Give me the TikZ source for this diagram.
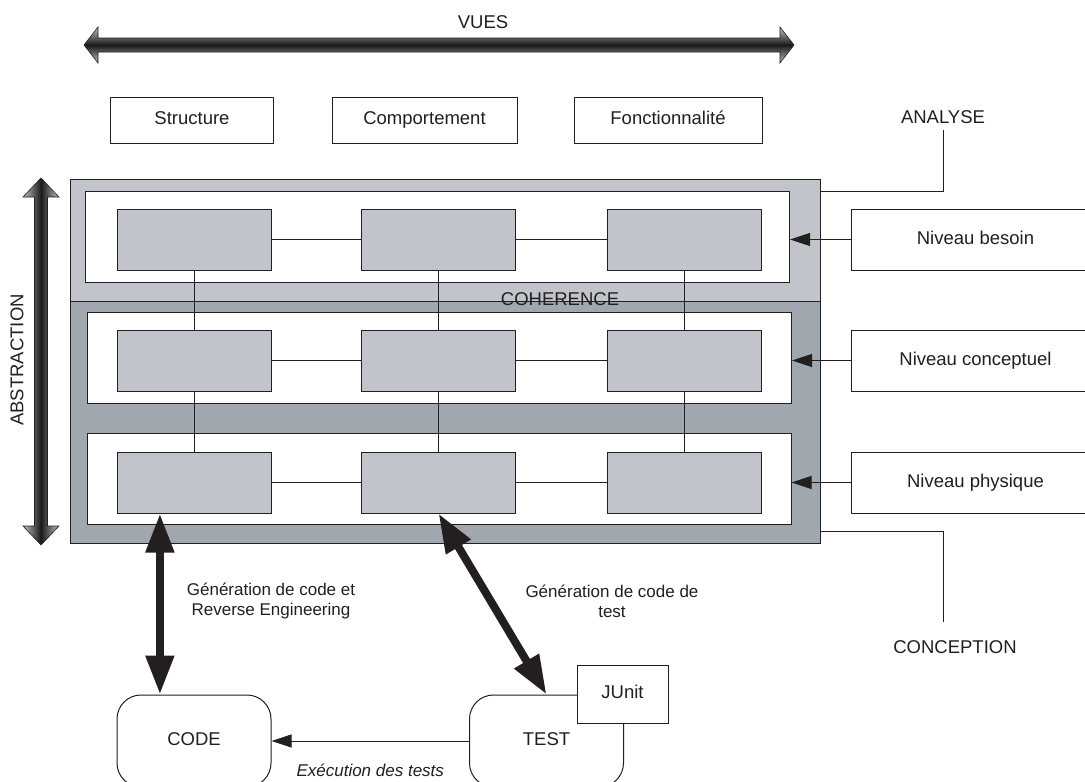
\documentclass[tikz,border=0pt]{standalone}
\usepackage{fontspec}
\setmainfont{Liberation Sans}
\usetikzlibrary{calc,arrows.meta,positioning}
\definecolor{ink}{HTML}{231F20}
\definecolor{panlight}{HTML}{C1C4CB}
\definecolor{pandark}{HTML}{A0A7AE}
\definecolor{boxgray}{HTML}{C1C4CB}
\tikzset{
  frame/.style={draw=ink, line width=1pt, fill=white, inner sep=0pt, text height=13pt, text depth=4pt},
  view/.style={frame, minimum height=46pt},
  band/.style={frame, minimum width=704pt, minimum height=91pt},
  elem/.style={draw=ink, line width=1pt, fill=boxgray, minimum width=154pt, minimum height=61pt, inner sep=0pt},
  level/.style={frame, minimum width=249pt, minimum height=61pt},
  tool/.style={frame, rounded corners=24pt, minimum width=154pt, minimum height=92pt},
  link/.style={draw=ink, line width=1pt},
  feed/.style={link, -{Triangle[length=20pt,width=13pt]}},
  gen/.style={draw=ink, line width=8pt, {Triangle[length=39pt,width=27pt]}-{Triangle[length=39pt,width=27pt]}},
  lab/.style={text=ink, font=\fontsize{18.5}{22}\selectfont},
  labs/.style={text=ink, font=\fontsize{17}{20}\selectfont, align=center},
  harrow/.style={draw=ink, line width=0.6pt, top color=gray!50, bottom color=gray!50, middle color=black!90},
  varrow/.style={draw=ink, line width=0.6pt, left color=gray!50, right color=gray!50, middle color=black!90},
}
\begin{document}
\begin{tikzpicture}[x=1pt,y=-1pt]
  \clip (0,0) rectangle (1085,782);
  \fill[white] (0,0) rectangle (1085,782);

  % vues
  \node[lab] (vues) at (483,22) {VUES};
  \path[harrow] (84,45) -- (98,27) -- (98,38) -- (780,38) -- (780,27) -- (794,45)
    -- (780,63) -- (780,52) -- (98,52) -- (98,63) -- cycle;
  \node[view, lab, minimum width=163pt] (struct) at (192,120) {Structure};
  \node[view, lab, minimum width=185pt] (comport) at (424.5,120) {Comportement};
  \node[view, lab, minimum width=188pt] (fonct) at (668,120) {Fonctionnalité};

  % abstraction
  \node[lab, rotate=90] (abstr) at (17,360) {ABSTRACTION};
  \path[varrow] (41,178) -- (59,197) -- (47.5,197) -- (47.5,526) -- (59,526) -- (41,545)
    -- (23,526) -- (34.5,526) -- (34.5,197) -- (23,197) -- cycle;

  % cadre des niveaux
  \coordinate (onw) at (70,179);
  \coordinate (ose) at (820,543);
  \coordinate (odiv) at (70,301);
  \fill[pandark] (onw) rectangle (ose);
  \fill[panlight] (onw) rectangle (ose |- odiv);
  \draw[link] (odiv) -- (ose |- odiv);
  \draw[link] (onw) rectangle (ose);

  \node[band] (band1) at (437.5,236.5) {};
  \node[band] (band2) at (439.5,357.5) {};
  \node[band] (band3) at (439,479) {};

  \foreach \c/\x in {1/194,2/438.5,3/684}
    \foreach \r/\y in {1/239.5,2/360.5,3/482.5}
      \node[elem] (b\r\c) at (\x,\y) {};

  \foreach \r in {1,2,3} {
    \draw[link] (b\r1) -- (b\r2);
    \draw[link] (b\r2) -- (b\r3);
  }
  \foreach \c in {1,2,3} {
    \draw[link] (b1\c) -- (b2\c);
    \draw[link] (b2\c) -- (b3\c);
  }
  \node[lab] (coh) at (560,299) {COHERENCE};

  % niveaux
  \node[level, lab] (lvl1) at (975.5,239.5) {Niveau besoin};
  \node[level, lab] (lvl2) at (975.5,360.5) {Niveau conceptuel};
  \node[level, lab] (lvl3) at (975.5,482.5) {Niveau physique};
  \draw[feed] (lvl1.west) -- (lvl1.west -| band1.east);
  \draw[feed] (lvl2.west) -- (lvl2.west -| band2.east);
  \draw[feed] (lvl3.west) -- (lvl3.west -| band3.east);

  \node[lab] (analyse) at (943,117) {ANALYSE};
  \node[lab] (concep) at (955,647) {CONCEPTION};
  \coordinate (tana) at (943,130);
  \coordinate (tcon) at (943,622);
  \draw[link] (ose |- 0,191) -| (tana);
  \draw[link] (ose |- 0,531) -| (tcon);

  % code et tests
  \node[tool, lab] (code) at (194,741) {CODE};
  \node[tool, lab] (test) at (546.5,741) {TEST};
  \node[frame, lab, minimum width=91pt, minimum height=58pt] (junit) at (622.5,694) {JUnit};
  \coordinate (cgen) at ($(code.north west)!0.28!(code.north east)$);
  \draw[gen] (cgen) -- (cgen |- b31.south);
  \draw[gen] (test.north) -- (b32.south);
  \draw[feed] (test.west) -- (code.east)
    node[midway, below=19pt, labs, font=\fontsize{17}{20}\selectfont\itshape] (exec) {Exécution des tests};
  \node[labs] (gcode) at (271,601) {Génération de code et\\Reverse Engineering};
  \node[labs] (gtest) at (612,601) {Génération de code de\\test};
\end{tikzpicture}
\end{document}
